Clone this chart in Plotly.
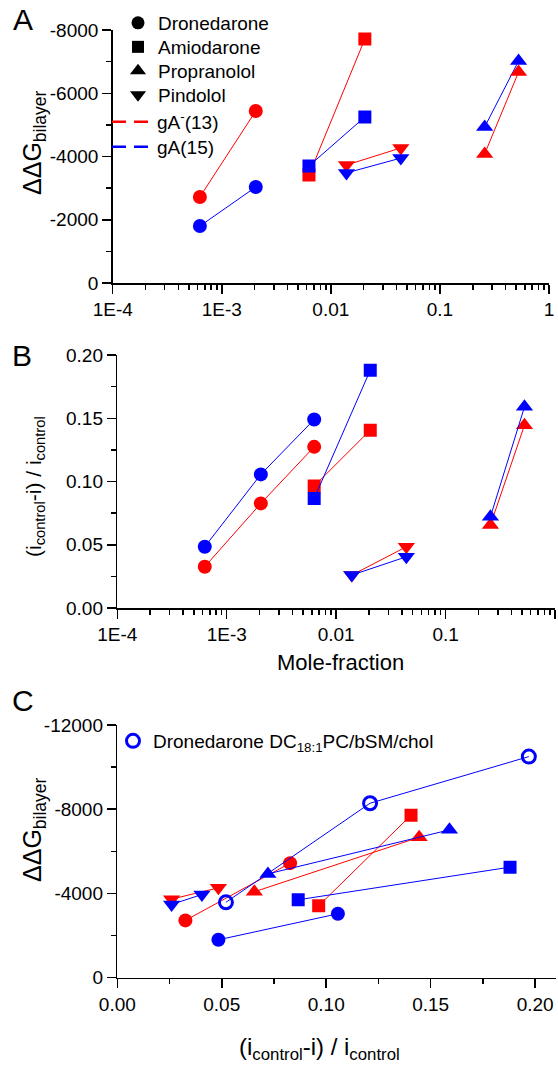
import plotly.graph_objects as go

FONT = "Liberation Sans, Arial, sans-serif"
RED = "#FF0000"
BLUE = "#0000FF"
W, H = 558, 1074

# ---------------- data ----------------
# mole fractions (panels A and B)
drone_mf = [6.3e-4, 2.05e-3, 6.3e-3]
amio_mf = [6.3e-3, 0.0205]
pind_mf = [0.0139, 0.0438]
prop_mf = [0.257, 0.526]

# ddG bilayer (panel A): gA-(13) red, gA(15) blue
drone_dg_13 = [-2720, -5440]
drone_dg_15 = [-1800, -3035]
amio_dg_13 = [-3415, -7715]
amio_dg_15 = [-3700, -5250]
pind_dg_13 = [-3730, -4270]
pind_dg_15 = [-3480, -3950]
prop_dg_13 = [-4080, -6670]
prop_dg_15 = [-4930, -7020]

# (icontrol - i)/icontrol (panel B)
drone_r_13 = [0.0326, 0.0827, 0.1274]
drone_r_15 = [0.0484, 0.1056, 0.149]
amio_r_13 = [0.0964, 0.1406]
amio_r_15 = [0.0866, 0.188]
pind_r_13 = [0.026, 0.0484]
pind_r_15 = [0.026, 0.0405]
prop_r_13 = [0.0656, 0.1445]
prop_r_15 = [0.0721, 0.159]

# panel C extra series: Dronedarone DC18:1PC/bSM/chol
dc_r = [0.052, 0.121, 0.197]
dc_dg = [-3580, -8285, -10500]

# legend labels
drug_names = ["Dronedarone", "Amiodarone", "Propranolol", "Pindolol"]
gA_names = ["gA<sup>-</sup>(13)", "gA(15)"]
dc_name = "Dronedarone DC<sub>18:1</sub>PC/bSM/chol"

# tick labels
log_tickvals = [1e-4, 1e-3, 1e-2, 1e-1, 1]
log_ticktext = ["1E-4", "1E-3", "0.01", "0.1", "1"]
log_minor = [k * 10.0 ** d for d in range(-4, 0) for k in range(2, 10)]
a_yvals = [0, -2000, -4000, -6000, -8000]
a_ytext = ["0", "-2000", "-4000", "-6000", "-8000"]
b_yvals = [0, 0.05, 0.10, 0.15, 0.20]
b_ytext = ["0.00", "0.05", "0.10", "0.15", "0.20"]
c_xvals = [0, 0.05, 0.10, 0.15, 0.20]
c_xtext = ["0.00", "0.05", "0.10", "0.15", "0.20"]
c_yvals = [0, -4000, -8000, -12000]
c_ytext = ["0", "-4000", "-8000", "-12000"]

fig = go.Figure()

SIZES = {"circle": 14, "square": 13, "triangle-up": 15, "triangle-down": 15}


def add(x, y, color, symbol, xa, ya):
    fig.add_trace(go.Scatter(
        x=x, y=y, mode="lines+markers", xaxis=xa, yaxis=ya,
        line=dict(color=color, width=1),
        marker=dict(symbol=symbol, size=SIZES[symbol], color=color, line=dict(width=0)),
        showlegend=False, hoverinfo="skip"))


# Panel A
add(drone_mf[:2], drone_dg_13, RED, "circle", "x", "y")
add(drone_mf[:2], drone_dg_15, BLUE, "circle", "x", "y")
add(amio_mf, amio_dg_13, RED, "square", "x", "y")
add(amio_mf, amio_dg_15, BLUE, "square", "x", "y")
add(pind_mf, pind_dg_13, RED, "triangle-down", "x", "y")
add(pind_mf, pind_dg_15, BLUE, "triangle-down", "x", "y")
add(prop_mf, prop_dg_15, BLUE, "triangle-up", "x", "y")
add(prop_mf, prop_dg_13, RED, "triangle-up", "x", "y")

# Panel B
add(drone_mf, drone_r_13, RED, "circle", "x2", "y2")
add(drone_mf, drone_r_15, BLUE, "circle", "x2", "y2")
add(amio_mf, amio_r_13, RED, "square", "x2", "y2")
add(amio_mf, amio_r_15, BLUE, "square", "x2", "y2")
add(pind_mf, pind_r_13, RED, "triangle-down", "x2", "y2")
add(pind_mf, pind_r_15, BLUE, "triangle-down", "x2", "y2")
add(prop_mf, prop_r_13, RED, "triangle-up", "x2", "y2")
add(prop_mf, prop_r_15, BLUE, "triangle-up", "x2", "y2")

# Panel C
add(drone_r_13[:2], drone_dg_13, RED, "circle", "x3", "y3")
add(drone_r_15[:2], drone_dg_15, BLUE, "circle", "x3", "y3")
add(amio_r_13, amio_dg_13, RED, "square", "x3", "y3")
add(amio_r_15, amio_dg_15, BLUE, "square", "x3", "y3")
add(pind_r_13, pind_dg_13, RED, "triangle-down", "x3", "y3")
add(pind_r_15, pind_dg_15, BLUE, "triangle-down", "x3", "y3")
add(prop_r_13, prop_dg_13, RED, "triangle-up", "x3", "y3")
add(prop_r_15, prop_dg_15, BLUE, "triangle-up", "x3", "y3")
fig.add_trace(go.Scatter(
    x=dc_r, y=dc_dg, mode="lines+markers", xaxis="x3", yaxis="y3",
    line=dict(color=BLUE, width=1),
    marker=dict(symbol="circle-open", size=13, color=BLUE, line=dict(width=3, color=BLUE)),
    showlegend=False, hoverinfo="skip"))


def px_x(p):
    """window pixel -> paper fraction"""
    return p / W


def px_y(p):
    return 1 - p / H


LEG_FONT = dict(family=FONT, size=19, color="black")
legends = {}

# Legend entries for panel A (one legend box per entry for exact row spacing)
row_y = [23, 47, 71, 95, 122, 147]
syms = ["circle", "square", "triangle-up", "triangle-down"]
for i, (nm, sym) in enumerate(zip(drug_names, syms)):
    key = "legend" if i == 0 else f"legend{i + 2}"
    fig.add_trace(go.Scatter(x=[None], y=[None], mode="markers", xaxis="x", yaxis="y",
                             marker=dict(symbol=sym, size=SIZES[sym] - 1, color="black"),
                             name=nm, legend=key, showlegend=True))
    legends[key] = (118, row_y[i], 30)
for j, (nm, col) in enumerate(zip(gA_names, [RED, BLUE])):
    key = f"legend{j + 6}"
    fig.add_trace(go.Scatter(x=[None], y=[None], mode="lines", xaxis="x", yaxis="y",
                             line=dict(color=col, width=2.5, dash="14px,8px"),
                             name=nm, legend=key, showlegend=True))
    legends[key] = (107, row_y[4 + j], 40)

# Legend for panel C
fig.add_trace(go.Scatter(x=[None], y=[None], mode="markers", xaxis="x3", yaxis="y3",
                         marker=dict(symbol="circle-open", size=13, color=BLUE,
                                     line=dict(width=3, color=BLUE)),
                         name=dc_name, legend="legend2", showlegend=True))

axis_common = dict(showline=True, linecolor="black", linewidth=1.5, ticks="outside",
                   ticklen=9, tickwidth=1.5, tickcolor="black", showgrid=False,
                   zeroline=False, mirror=False, automargin=False,
                   tickfont=dict(family=FONT, size=19, color="black"))
minor_common = dict(ticks="outside", ticklen=5, tickwidth=1.5, tickcolor="black",
                    showgrid=False)

layout_legends = {}
for key, (xx, yy, iw) in legends.items():
    layout_legends[key] = dict(x=px_x(xx), y=px_y(yy), xanchor="left", yanchor="middle",
                               bgcolor="rgba(0,0,0,0)", font=LEG_FONT, borderwidth=0,
                               itemwidth=iw)
layout_legends["legend2"] = dict(x=px_x(113), y=px_y(741), xanchor="left", yanchor="middle",
                                 bgcolor="rgba(0,0,0,0)", font=LEG_FONT, borderwidth=0)

fig.update_layout(
    template="none",
    width=W, height=H, margin=dict(l=0, r=0, t=0, b=0, pad=0, autoexpand=False),
    paper_bgcolor="white", plot_bgcolor="white",
    font=dict(family=FONT, color="black"),
    hovermode=False,
    xaxis=dict(axis_common, type="log", domain=[px_x(112.7), px_x(549)], range=[-4, 0],
               anchor="y", tickmode="array", tickvals=log_tickvals, ticktext=log_ticktext,
               minor=dict(minor_common, tickmode="array", tickvals=log_minor)),
    yaxis=dict(axis_common, domain=[px_y(283), px_y(30)], range=[0, -8000], anchor="x",
               tickmode="array", tickvals=a_yvals, ticktext=a_ytext,
               minor=dict(minor_common, dtick=1000, tick0=0)),
    xaxis2=dict(axis_common, type="log", domain=[px_x(117.3), px_x(555)], range=[-4, 0],
                anchor="y2", tickmode="array", tickvals=log_tickvals, ticktext=log_ticktext,
                minor=dict(minor_common, tickmode="array", tickvals=log_minor)),
    yaxis2=dict(axis_common, domain=[px_y(608), px_y(355)], range=[0, 0.2], anchor="x2",
                tickmode="array", tickvals=b_yvals, ticktext=b_ytext,
                minor=dict(minor_common, dtick=0.025, tick0=0)),
    xaxis3=dict(axis_common, domain=[px_x(117.3), px_x(556)], range=[0, 0.21], anchor="y3",
                tickmode="array", tickvals=c_xvals, ticktext=c_xtext,
                minor=dict(minor_common, dtick=0.025, tick0=0)),
    yaxis3=dict(axis_common, domain=[px_y(977.7), px_y(725)], range=[0, -12000], anchor="x3",
                tickmode="array", tickvals=c_yvals, ticktext=c_ytext,
                minor=dict(minor_common, dtick=2000, tick0=0)),
    **layout_legends,
)

annotations = [
    dict(text="A", x=px_x(23), y=px_y(20), size=30),
    dict(text="B", x=px_x(22), y=px_y(355), size=30),
    dict(text="C", x=px_x(23), y=px_y(700), size=30),
    dict(text="ΔΔG<sub>bilayer</sub>", x=px_x(34), y=px_y(143), size=25, angle=-90),
    dict(text="(i<sub>control</sub>-i) / i<sub>control</sub>", x=px_x(35), y=px_y(487),
         size=21, angle=-90),
    dict(text="Mole-fraction", x=px_x(340), y=px_y(662), size=22),
    dict(text="ΔΔG<sub>bilayer</sub>", x=px_x(34), y=px_y(830), size=25, angle=-90),
    dict(text="(i<sub>control</sub>-i) / i<sub>control</sub>", x=px_x(319), y=px_y(1048),
         size=24),
]
for a in annotations:
    fig.add_annotation(text=a["text"], x=a["x"], y=a["y"], xref="paper", yref="paper",
                       xanchor="center", yanchor="middle", showarrow=False,
                       textangle=a.get("angle", 0),
                       font=dict(family=FONT, size=a["size"], color="black"))

# remove the browser's default body margin so the figure fills the window exactly
fig.write_html("out.html",
               config={"displayModeBar": False, "staticPlot": True},
               post_script="document.body.style.margin='0px';"
                           "document.body.style.overflow='hidden';")
